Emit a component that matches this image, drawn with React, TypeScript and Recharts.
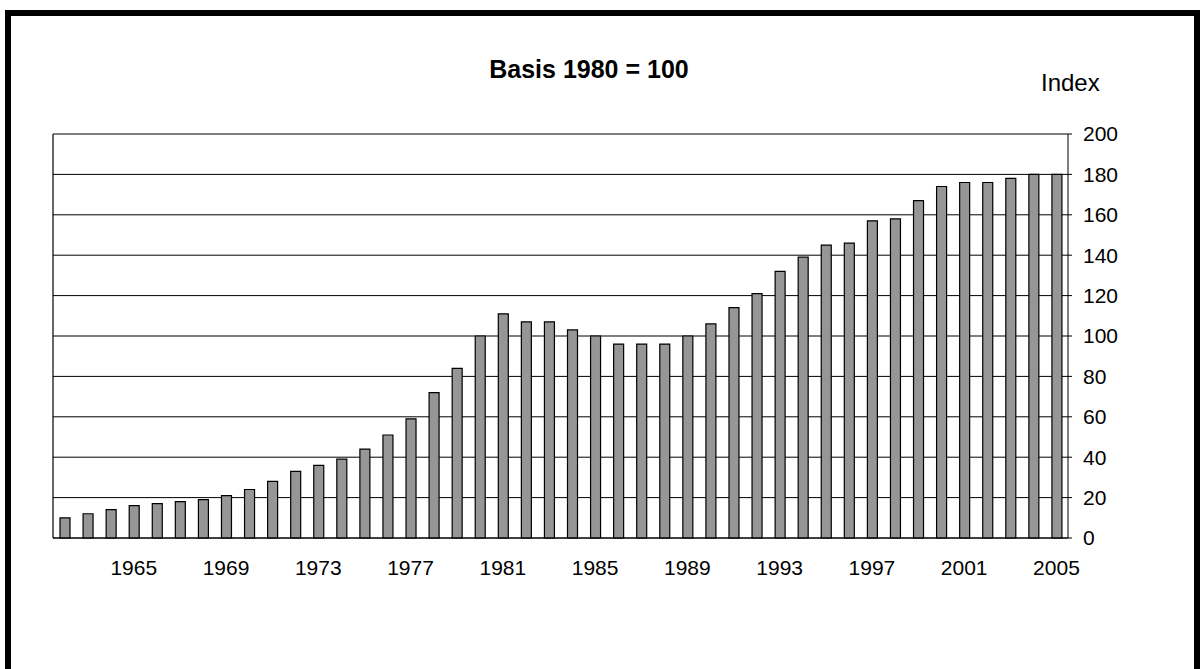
import { BarChart, Bar, XAxis, YAxis, CartesianGrid } from 'recharts'

const years = [
  '1962', '1963', '1964', '1965', '1966', '1967', '1968', '1969', '1970', '1971', '1972',
  '1973', '1974', '1975', '1976', '1977', '1978', '1979', '1980', '1981', '1982', '1983',
  '1984', '1985', '1986', '1987', '1988', '1989', '1990', '1991', '1992', '1993', '1994',
  '1995', '1996', '1997', '1998', '1999', '2000', '2001', '2002', '2003', '2004', '2005',
]

const indexValues = [
  10, 12, 14, 16, 17, 18, 19, 21, 24, 28, 33, 36, 39, 44, 51, 59, 72, 84, 100, 111, 107, 107,
  103, 100, 96, 96, 96, 100, 106, 114, 121, 132, 139, 145, 146, 157, 158, 167, 174, 176, 176,
  178, 180, 180,
]

const yTicks = [0, 20, 40, 60, 80, 100, 120, 140, 160, 180, 200]
const labelledYears = ['1965', '1969', '1973', '1977', '1981', '1985', '1989', '1993', '1997', '2001', '2005']

const data = years.map((year, i) => ({ year, value: indexValues[i] }))

const font = '"Liberation Sans", Arial, sans-serif'

export default function App() {
  return (
    <div style={{ position: 'absolute', left: 0, top: 0, width: 1202, height: 669, overflow: 'hidden', background: '#fff', fontFamily: font }}>
      <BarChart
        width={1202}
        height={669}
        data={data}
        margin={{ top: 134, right: 74, bottom: 101, left: 52 }}
      >
        <CartesianGrid vertical={false} stroke="#000" strokeWidth={1} />
        <XAxis
          dataKey="year"
          interval={0}
          height={30}
          tickLine={false}
          tickSize={6}
          tickMargin={16}
          axisLine={{ stroke: '#000' }}
          tick={{ fill: '#000', fontSize: 21, fontFamily: font }}
          tickFormatter={(y: string) => (labelledYears.includes(y) ? y : '')}
        />
        {/* left edge of the plot frame */}
        <YAxis
          yAxisId="l"
          orientation="left"
          width={1}
          domain={[0, 200]}
          ticks={yTicks}
          tick={false}
          tickLine={false}
          axisLine={{ stroke: '#000', strokeWidth: 1.2 }}
        />
        <YAxis
          orientation="right"
          width={60}
          domain={[0, 200]}
          ticks={yTicks}
          interval={0}
          tickSize={4}
          tickMargin={11}
          tickLine={{ stroke: '#000' }}
          axisLine={{ stroke: '#000' }}
          tick={{ fill: '#000', fontSize: 21, fontFamily: font }}
        />
        <Bar
          dataKey="value"
          barSize={10}
          fill="#969696"
          stroke="#000"
          strokeWidth={1.2}
          isAnimationActive={false}
        />
      </BarChart>

      {/* frame, title and unit label */}
      <svg width={1202} height={669} style={{ position: 'absolute', left: 0, top: 0, pointerEvents: 'none' }}>
        <rect x={8} y={13} width={1189} height={700} fill="none" stroke="#000" strokeWidth={6} />
        <text x={589} y={78} textAnchor="middle" fontSize={25} fontWeight="bold" fontFamily={font} fill="#000">
          Basis 1980 = 100
        </text>
        <text x={1041} y={91} fontSize={24} fontFamily={font} fill="#000">
          Index
        </text>
      </svg>
    </div>
  )
}
